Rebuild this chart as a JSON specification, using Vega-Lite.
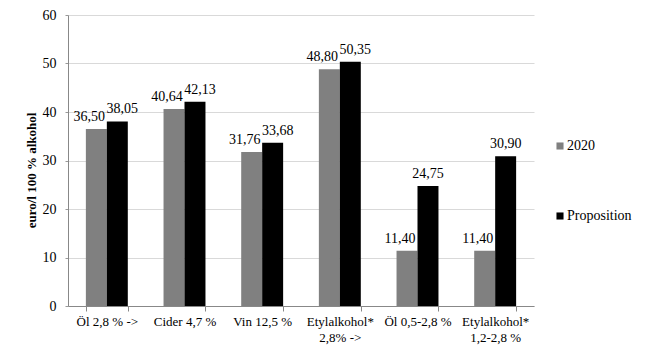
{
  "$schema": "https://vega.github.io/schema/vega-lite/v6.json",
  "width": 466,
  "height": 291,
  "autosize": {"type": "none"},
  "padding": {"left": 68, "top": 15, "right": 136, "bottom": 56},
  "background": "white",
  "data": {
    "values": [
      {"kategori": "Öl 2,8 % ->", "serie": "2020", "varde": 36.50},
      {"kategori": "Öl 2,8 % ->", "serie": "Proposition", "varde": 38.05},
      {"kategori": "Cider 4,7 %", "serie": "2020", "varde": 40.64},
      {"kategori": "Cider 4,7 %", "serie": "Proposition", "varde": 42.13},
      {"kategori": "Vin 12,5 %", "serie": "2020", "varde": 31.76},
      {"kategori": "Vin 12,5 %", "serie": "Proposition", "varde": 33.68},
      {"kategori": "Etylalkohol*|2,8% ->", "serie": "2020", "varde": 48.80},
      {"kategori": "Etylalkohol*|2,8% ->", "serie": "Proposition", "varde": 50.35},
      {"kategori": "Öl 0,5-2,8 %", "serie": "2020", "varde": 11.40},
      {"kategori": "Öl 0,5-2,8 %", "serie": "Proposition", "varde": 24.75},
      {"kategori": "Etylalkohol*|1,2-2,8 %", "serie": "2020", "varde": 11.40},
      {"kategori": "Etylalkohol*|1,2-2,8 %", "serie": "Proposition", "varde": 30.90}
    ]
  },
  "encoding": {
    "x": {
      "field": "kategori", "type": "nominal", "sort": null,
      "scale": {"paddingInner": 0.46, "paddingOuter": 0.23},
      "axis": {
        "title": null, "labelAngle": 0, "tickBand": "extent",
        "labelExpr": "datum.value ? split(datum.value, '|') : ''",
        "labelFont": "Liberation Serif", "labelFontSize": 13, "labelColor": "#000",
        "labelPadding": 4, "tickSize": 5, "tickColor": "#888", "domainColor": "#888",
        "labelLineHeight": 16
      }
    },
    "xOffset": {"field": "serie", "type": "nominal", "sort": ["2020", "Proposition"]},
    "y": {
      "field": "varde", "type": "quantitative",
      "scale": {"domain": [0, 60], "nice": false},
      "axis": {
        "title": "euro/l 100 % alkohol", "values": [0, 10, 20, 30, 40, 50, 60],
        "titleFont": "Liberation Serif", "titleFontSize": 13, "titleFontWeight": "bold", "titleColor": "#000",
        "titlePadding": 4, "titleY": 155,
        "labelFont": "Liberation Serif", "labelFontSize": 14, "labelColor": "#000", "labelPadding": 9,
        "tickSize": 3, "tickColor": "#999", "domainColor": "#888",
        "grid": true, "gridColor": "#d9d9d9"
      }
    }
  },
  "layer": [
    {
      "mark": {"type": "bar"},
      "encoding": {
        "color": {
          "field": "serie", "type": "nominal",
          "scale": {"domain": ["2020", "Proposition"], "range": ["#808080", "#000000"]},
          "legend": {
            "title": null, "orient": "none", "legendX": 485, "legendY": 124,
            "symbolType": "square", "symbolSize": 50, "symbolStrokeWidth": 0,
            "labelFont": "Liberation Serif", "labelFontSize": 14, "labelColor": "#000",
            "rowPadding": 56, "labelOffset": 0
          }
        }
      }
    },
    {
      "transform": [{"filter": {"field": "serie", "equal": "2020"}}],
      "mark": {"type": "text", "baseline": "alphabetic", "dy": -8, "dx": -7, "font": "Liberation Serif", "fontSize": 14, "color": "#000"},
      "encoding": {"text": {"field": "varde", "type": "quantitative", "format": ".2f"}}
    },
    {
      "transform": [{"filter": {"and": [{"field": "serie", "equal": "Proposition"}, {"field": "kategori", "oneOf": ["Öl 2,8 % ->", "Cider 4,7 %", "Vin 12,5 %", "Etylalkohol*|2,8% ->"]}]}}],
      "mark": {"type": "text", "baseline": "alphabetic", "dy": -8, "dx": 5, "font": "Liberation Serif", "fontSize": 14, "color": "#000"},
      "encoding": {"text": {"field": "varde", "type": "quantitative", "format": ".2f"}}
    },
    {
      "transform": [{"filter": {"and": [{"field": "serie", "equal": "Proposition"}, {"field": "kategori", "oneOf": ["Öl 0,5-2,8 %", "Etylalkohol*|1,2-2,8 %"]}]}}],
      "mark": {"type": "text", "baseline": "alphabetic", "dy": -8, "font": "Liberation Serif", "fontSize": 14, "color": "#000"},
      "encoding": {"text": {"field": "varde", "type": "quantitative", "format": ".2f"}}
    }
  ],
  "config": {
    "view": {"stroke": null},
    "locale": {"number": {"decimal": ",", "thousands": " ", "grouping": [3], "currency": ["", " €"]}}
  }
}
